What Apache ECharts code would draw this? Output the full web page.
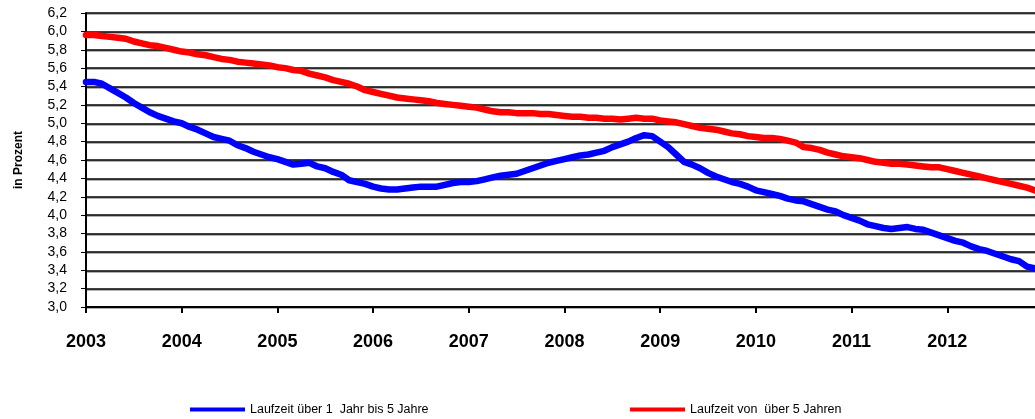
<!DOCTYPE html>
<html>
<head>
<meta charset="utf-8">
<script src="https://cdn.jsdelivr.net/npm/echarts@6/dist/echarts.min.js"></script>
<style>
    html, body { margin: 0; padding: 0; background: #fff; }
    #chart { width: 1035px; height: 419px; }
</style>
</head>
<body>
<div id="chart"></div>
<script>
// Monatswerte Jan 2003 - Dez 2012
var years = ['2003', '2004', '2005', '2006', '2007', '2008', '2009', '2010', '2011', '2012'];
var months = [];
for (var y = 0; y < years.length; y++) {
    for (var m = 1; m <= 12; m++) {
        months.push(years[y] + '-' + (m < 10 ? '0' + m : m));
    }
}
// Laufzeit über 1 Jahr bis 5 Jahre
var kurz = [
    5.45, 5.45, 5.43, 5.38, 5.33, 5.28, 5.22, 5.17, 5.12, 5.08, 5.05, 5.02,
    5.00, 4.96, 4.93, 4.89, 4.85, 4.83, 4.81, 4.76, 4.73, 4.69, 4.66, 4.63,
    4.61, 4.58, 4.55, 4.56, 4.57, 4.53, 4.51, 4.47, 4.44, 4.38, 4.36, 4.34,
    4.31, 4.29, 4.28, 4.28, 4.29, 4.30, 4.31, 4.31, 4.31, 4.33, 4.35, 4.36,
    4.36, 4.37, 4.39, 4.41, 4.43, 4.44, 4.45, 4.48, 4.51, 4.54, 4.57, 4.59,
    4.61, 4.63, 4.65, 4.66, 4.68, 4.70, 4.74, 4.77, 4.80, 4.84, 4.87, 4.86,
    4.80, 4.74, 4.66, 4.58, 4.55, 4.51, 4.46, 4.42, 4.39, 4.36, 4.34, 4.31,
    4.27, 4.25, 4.23, 4.21, 4.18, 4.16, 4.15, 4.12, 4.09, 4.06, 4.04, 4.00,
    3.97, 3.94, 3.90, 3.88, 3.86, 3.85, 3.86, 3.87, 3.85, 3.84, 3.81, 3.78,
    3.75, 3.72, 3.70, 3.66, 3.63, 3.61, 3.58, 3.55, 3.52, 3.50, 3.44, 3.42
];
// Laufzeit von über 5 Jahren
var lang = [
    5.96, 5.96, 5.95, 5.94, 5.93, 5.92, 5.89, 5.87, 5.85, 5.84, 5.82, 5.80,
    5.78, 5.77, 5.75, 5.74, 5.72, 5.70, 5.69, 5.67, 5.66, 5.65, 5.64, 5.63,
    5.61, 5.60, 5.58, 5.57, 5.54, 5.52, 5.50, 5.47, 5.45, 5.43, 5.40, 5.36,
    5.34, 5.32, 5.30, 5.28, 5.27, 5.26, 5.25, 5.24, 5.22, 5.21, 5.20, 5.19,
    5.18, 5.17, 5.15, 5.13, 5.12, 5.12, 5.11, 5.11, 5.11, 5.10, 5.10, 5.09,
    5.08, 5.07, 5.07, 5.06, 5.06, 5.05, 5.05, 5.04, 5.05, 5.06, 5.05, 5.05,
    5.03, 5.02, 5.01, 4.99, 4.97, 4.95, 4.94, 4.93, 4.91, 4.89, 4.88, 4.86,
    4.85, 4.84, 4.84, 4.83, 4.81, 4.79, 4.74, 4.73, 4.71, 4.68, 4.66, 4.64,
    4.63, 4.62, 4.60, 4.58, 4.57, 4.56, 4.56, 4.55, 4.54, 4.53, 4.52, 4.52,
    4.50, 4.48, 4.46, 4.44, 4.42, 4.40, 4.38, 4.36, 4.34, 4.32, 4.30, 4.27
];
var nameKurz = 'Laufzeit über 1  Jahr bis 5 Jahre';
var nameLang = 'Laufzeit von  über 5 Jahren';

var chart = echarts.init(document.getElementById('chart'));
var font = '"Liberation Sans", Arial, sans-serif';

// nur Jahresanfang beschriften
function isJan(i) { return i % 12 === 0; }

var option = {
    animation: false,
    grid: { left: 86, right: 0, top: 13, bottom: 112 },
    legend: [{
        data: [nameKurz],
        left: 185,
        top: 398,
        icon: 'rect',
        itemWidth: 55,
        itemHeight: 4,
        textStyle: { fontFamily: font, fontSize: 12.5, color: '#000' }
    }, {
        data: [nameLang],
        left: 625,
        top: 398,
        icon: 'rect',
        itemWidth: 55,
        itemHeight: 4,
        textStyle: { fontFamily: font, fontSize: 12.5, color: '#000' }
    }],
    xAxis: {
        type: 'category',
        data: months,
        boundaryGap: false,
        axisLine: { lineStyle: { color: '#000', width: 2 } },
        axisTick: { interval: isJan, length: 6, lineStyle: { color: '#000', width: 2 } },
        axisLabel: {
            interval: isJan,
            margin: 26,
            fontFamily: font,
            fontSize: 18,
            fontWeight: 'bold',
            color: '#000',
            formatter: function (v) { return v.slice(0, 4); }
        },
        splitLine: { show: false }
    },
    yAxis: {
        type: 'value',
        min: 3,
        max: 6.2,
        interval: 0.2,
        name: 'in Prozent',
        nameLocation: 'middle',
        nameGap: 61,
        nameRotate: 90,
        nameTextStyle: { fontFamily: font, fontSize: 12, fontWeight: 'bold', color: '#000' },
        axisLine: { show: true, lineStyle: { color: '#000', width: 2 } },
        axisTick: { show: true, length: 5, lineStyle: { color: '#000', width: 1 } },
        axisLabel: {
            margin: 19,
            fontFamily: font,
            fontSize: 14,
            color: '#000',
            formatter: function (v) { return v.toFixed(1).replace('.', ','); }
        },
        splitLine: {
            lineStyle: { color: '#000', width: 1.5, shadowColor: '#999', shadowOffsetY: 1, shadowBlur: 0 }
        }
    },
    series: [{
        name: nameKurz,
        type: 'line',
        data: kurz,
        symbol: 'none',
        color: '#0000ff',
        lineStyle: { width: 6.5, color: '#0000ff', join: 'round', cap: 'round' }
    }, {
        name: nameLang,
        type: 'line',
        data: lang,
        symbol: 'none',
        color: '#ff0000',
        lineStyle: { width: 6.5, color: '#ff0000', join: 'round', cap: 'round' }
    }]
};
chart.setOption(option);
</script>
</body>
</html>
